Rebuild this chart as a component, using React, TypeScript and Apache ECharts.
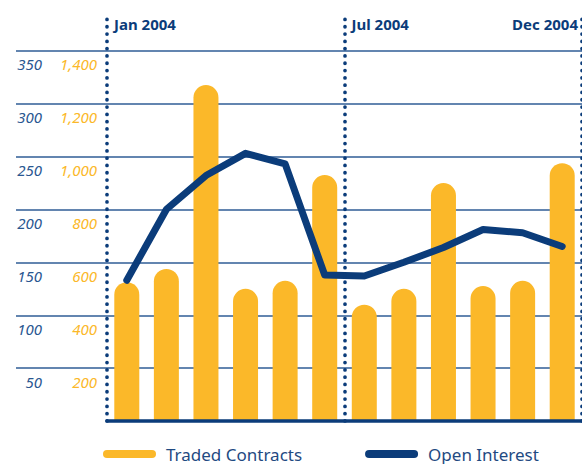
import React, { useEffect, useRef } from "react";
import * as echarts from "echarts";

const months = ["Jan", "Feb", "Mar", "Apr", "May", "Jun", "Jul", "Aug", "Sep", "Oct", "Nov", "Dec"];
const tradedContracts = [525, 575, 1270, 500, 530, 930, 440, 500, 900, 510, 530, 975];
const openInterest = [133, 200, 232, 253, 243, 138, 137, 150, 164, 181, 178, 165];
const markerPositions = [0, 6, 12];
const markerLabels = ["Jan 2004", "Jul 2004", "Dec 2004"];

const DARK = "#0b3c7a";
const GRID = "#2f5c96";
const YELLOW = "#fbb829";
const TEXTBLUE = "#2a5791";
const FONT = "'Noto Sans', sans-serif";
const PILL = "path://M4,0 H49 A4,4 0 0 1 49,8 H4 A4,4 0 0 1 4,0 Z";

export default function App() {
  const ref = useRef<HTMLDivElement>(null);
  useEffect(() => {
    if (!ref.current) return;
    const chart = echarts.init(ref.current, null, { renderer: "svg" });
    const gridColors = [0, 50, 100, 150, 200, 250, 300, 350].map((v) => (v === 0 ? "rgba(0,0,0,0)" : GRID));
    chart.setOption({
      animation: false,
      grid: [
        { left: 107, right: -1, top: 19, bottom: 43 },
        { left: 16, right: 0, top: 51, bottom: 43 },
      ],
      legend: {
        left: 103,
        top: 445,
        padding: 0,
        icon: PILL,
        itemWidth: 53,
        itemHeight: 8,
        itemGap: 63,
        selectedMode: false,
        textStyle: { color: "#1f4a82", fontSize: 17, lineHeight: 18, fontFamily: FONT, padding: [0, 0, 0, 5] },
        data: ["Traded Contracts", "Open Interest"],
      },
      xAxis: [
        {
          type: "category",
          gridIndex: 0,
          data: months,
          position: "bottom",
          z: 3,
          axisLine: { show: true, lineStyle: { color: DARK, width: 3.5 } },
          axisTick: { show: false },
          axisLabel: { show: false },
          splitLine: { show: false },
        },
        {
          type: "value",
          gridIndex: 0,
          position: "top",
          min: 0,
          max: 12,
          interval: 6,
          axisLine: { show: false },
          axisTick: { show: false },
          splitLine: { show: false },
          axisLabel: {
            inside: true,
            margin: 4.5,
            align: "left",
            alignMaxLabel: "right",
            verticalAlign: "middle",
            padding: [0, 4, 0, 7],
            color: DARK,
            fontSize: 15,
            fontWeight: "bold",
            fontFamily: FONT,
            formatter: (v: number) => {
              const i = markerPositions.indexOf(v);
              return i >= 0 ? markerLabels[i] : "";
            },
          },
        },
        { type: "value", gridIndex: 1, show: false, min: 0, max: 1 },
      ],
      yAxis: [
        {
          type: "value",
          gridIndex: 0,
          position: "left",
          min: 0,
          max: 380,
          interval: 50,
          axisLine: { show: false },
          axisTick: { show: false },
          splitLine: { show: false },
          axisLabel: {
            margin: 65,
            showMinLabel: false,
            showMaxLabel: false,
            color: TEXTBLUE,
            fontSize: 15,
            fontStyle: "italic",
            fontFamily: FONT,
            verticalAlign: "top",
            lineHeight: 27,
          },
        },
        {
          type: "value",
          gridIndex: 0,
          position: "left",
          min: 0,
          max: 1520,
          interval: 200,
          axisLine: { show: false },
          axisTick: { show: false },
          splitLine: { show: false },
          axisLabel: {
            margin: 10,
            showMinLabel: false,
            showMaxLabel: false,
            color: YELLOW,
            fontSize: 15,
            fontStyle: "italic",
            fontFamily: FONT,
            verticalAlign: "top",
            lineHeight: 27,
            formatter: (v: number) => v.toLocaleString("en-US"),
          },
        },
        {
          type: "value",
          gridIndex: 1,
          min: 0,
          max: 350,
          interval: 50,
          axisLine: { show: false },
          axisTick: { show: false },
          axisLabel: { show: false },
          splitLine: { show: true, lineStyle: { color: gridColors, width: 1.6 } },
        },
      ],
      series: [
        {
          name: "Traded Contracts",
          type: "bar",
          xAxisIndex: 0,
          yAxisIndex: 1,
          barWidth: 25,
          data: tradedContracts,
          itemStyle: { color: YELLOW, borderRadius: [12.5, 12.5, 0, 0] },
          z: 2,
        },
        {
          name: "Open Interest",
          type: "line",
          xAxisIndex: 0,
          yAxisIndex: 0,
          data: openInterest,
          symbol: "none",
          color: DARK,
          lineStyle: { color: DARK, width: 7, cap: "round", join: "round" },
          z: 4,
        },
        {
          name: "markers",
          type: "line",
          xAxisIndex: 1,
          yAxisIndex: 0,
          data: [],
          silent: true,
          markLine: {
            silent: true,
            symbol: "none",
            label: { show: false },
            lineStyle: { color: DARK, width: 3.7, type: [0.1, 7.2], cap: "round" },
            data: markerPositions.map((p) => [{ coord: [p, 0] }, { coord: [p, 380] }]),
          },
        },
      ],
    });
    return () => chart.dispose();
  }, []);
  return <div ref={ref} style={{ position: "absolute", left: 0, top: 0, width: 582, height: 464 }} />;
}
